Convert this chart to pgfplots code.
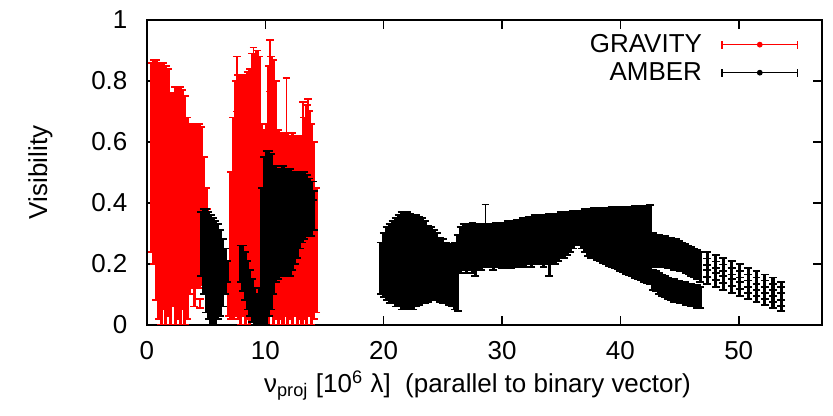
\documentclass[border=0pt]{standalone}
\usepackage{pgfplots}
\pgfplotsset{compat=1.18}
\usepackage{pgfplotstable}
\usepackage{fontspec}
\setmainfont{Liberation Sans}

% GRAVITY: x, y (centre), e (half error)
\pgfplotstableread{
x y e
0.4 0.55 0.31
0.6 0.535 0.335
0.8 0.475 0.395
1.0 0.44 0.42
1.2 0.43 0.43
1.4 0.455 0.405
1.6 0.425 0.425
1.8 0.435 0.405
2.0 0.38 0.38
2.2 0.41 0.35
2.4 0.39 0.39
2.6 0.40 0.38
2.8 0.39 0.39
3.0 0.41 0.36
3.2 0.375 0.375
3.4 0.35 0.33
3.6 0.38 0.28
3.8 0.39 0.27
4.0 0.36 0.30
4.2 0.39 0.27
4.4 0.39 0.27
4.6 0.39 0.26
4.8 0.35 0.20
5.0 0.335 0.115
5.1 0.33 0.05
6.9 0.115 0.085
7.1 0.26 0.24
7.3 0.35 0.33
7.5 0.415 0.385
7.7 0.42 0.40
7.9 0.41 0.41
8.1 0.425 0.395
8.3 0.41 0.41
8.5 0.425 0.405
8.7 0.42 0.42
8.9 0.455 0.435
9.1 0.445 0.445
9.3 0.465 0.435
9.5 0.44 0.44
9.7 0.34 0.32
9.9 0.32 0.32
10.1 0.34 0.32
10.3 0.425 0.425
10.5 0.455 0.425
10.7 0.435 0.435
10.9 0.41 0.39
11.1 0.32 0.32
11.3 0.325 0.305
11.5 0.315 0.315
11.7 0.33 0.30
11.9 0.315 0.315
12.1 0.32 0.30
12.3 0.315 0.315
12.5 0.325 0.295
12.7 0.31 0.31
12.9 0.32 0.30
13.1 0.31 0.31
13.3 0.35 0.33
13.5 0.36 0.36
13.7 0.365 0.335
13.9 0.33 0.33
14.1 0.31 0.29
14.3 0.245 0.205
}\gravity

\pgfplotstableread{
x y e
4.5 0.07 0.015
7.6 0.79 0.09
9.0 0.85 0.06
10.4 0.85 0.085
11.8 0.70 0.11
13.2 0.66 0.07
13.6 0.70 0.04
}\gravityout

% AMBER
\pgfplotstableread{
x y e
4.6 0.265 0.105
4.8 0.24 0.14
5.0 0.21 0.17
5.2 0.195 0.175
5.4 0.18 0.18
5.6 0.175 0.175
5.8 0.17 0.17
6.0 0.175 0.155
6.2 0.17 0.14
6.4 0.17 0.11
6.6 0.175 0.075
6.8 0.175 0.035
7.9 0.20 0.06
8.1 0.185 0.075
8.3 0.16 0.08
8.5 0.13 0.08
8.7 0.105 0.075
8.9 0.08 0.07
9.1 0.06 0.06
9.3 0.05 0.05
9.5 0.06 0.06
9.7 0.225 0.225
9.9 0.275 0.275
10.1 0.285 0.285
10.3 0.30 0.27
10.5 0.305 0.255
10.7 0.31 0.21
10.9 0.33 0.19
11.1 0.33 0.18
11.3 0.335 0.175
11.5 0.34 0.18
11.7 0.335 0.175
11.9 0.335 0.175
12.1 0.335 0.175
12.3 0.34 0.16
12.5 0.35 0.15
12.7 0.36 0.14
12.9 0.375 0.125
13.1 0.385 0.115
13.3 0.39 0.11
13.5 0.39 0.10
13.7 0.385 0.095
13.9 0.38 0.09
14.1 0.375 0.065
19.75 0.185 0.085
20.0 0.195 0.105
20.25 0.20 0.12
20.5 0.20 0.13
20.75 0.205 0.135
21.0 0.205 0.145
21.25 0.21 0.15
21.5 0.21 0.16
21.75 0.21 0.16
22.0 0.21 0.16
22.25 0.21 0.155
22.5 0.205 0.155
22.75 0.21 0.15
23.0 0.21 0.145
23.25 0.21 0.14
23.5 0.205 0.135
23.75 0.20 0.125
24.0 0.20 0.12
24.25 0.195 0.115
24.5 0.19 0.11
24.75 0.18 0.105
25.0 0.175 0.105
25.25 0.17 0.10
25.5 0.165 0.10
25.75 0.16 0.10
26.0 0.16 0.11
26.25 0.17 0.125
26.5 0.245 0.075
26.75 0.255 0.075
27.0 0.25 0.08
27.25 0.255 0.075
27.5 0.2525 0.0825
27.75 0.245 0.085
28.0 0.255 0.075
28.25 0.255 0.075
28.5 0.26 0.07
28.75 0.26 0.07
29.0 0.26 0.07
29.25 0.255 0.075
29.5 0.2625 0.0725
29.75 0.2625 0.0725
30.0 0.26 0.075
30.25 0.26 0.075
30.5 0.265 0.075
30.75 0.2625 0.0775
31.0 0.265 0.075
31.25 0.2675 0.0775
31.5 0.2675 0.0775
31.75 0.27 0.08
32.0 0.27 0.08
32.25 0.2775 0.0775
32.5 0.2725 0.0825
32.75 0.28 0.08
33.0 0.28 0.08
33.25 0.28 0.08
33.5 0.275 0.085
33.75 0.28 0.08
34.0 0.2625 0.1025
34.25 0.2825 0.0825
34.5 0.2825 0.0825
34.75 0.2875 0.0775
35.0 0.295 0.075
35.25 0.295 0.075
35.5 0.30 0.07
35.75 0.305 0.065
36.0 0.3125 0.0625
36.25 0.3175 0.0575
36.5 0.3175 0.0575
36.75 0.3125 0.0625
37.0 0.31 0.07
37.25 0.3025 0.0775
37.5 0.30 0.08
37.75 0.30 0.082
38.0 0.296 0.084
38.25 0.295 0.087
38.5 0.293 0.09
38.75 0.291 0.092
39.0 0.289 0.095
39.25 0.2875 0.0975
39.5 0.285 0.10
39.75 0.2835 0.1025
40.0 0.281 0.105
40.25 0.2795 0.1075
40.5 0.277 0.11
40.75 0.2755 0.1125
41.0 0.2735 0.1145
41.25 0.2715 0.1175
41.5 0.2695 0.1195
41.75 0.2675 0.1225
42.0 0.2655 0.1245
42.25 0.263 0.127
42.5 0.262 0.13
42.75 0.1475 0.0325
43.0 0.1425 0.0325
43.25 0.135 0.035
43.5 0.13 0.035
43.75 0.125 0.035
44.0 0.12 0.035
44.25 0.115 0.035
44.5 0.1125 0.0375
44.75 0.11 0.035
45.0 0.1075 0.0375
45.25 0.105 0.035
45.5 0.1025 0.0375
45.75 0.10 0.035
46.0 0.0975 0.0375
46.25 0.095 0.035
46.5 0.0925 0.0375
46.75 0.09 0.035
42.75 0.245 0.055
43.0 0.2425 0.0525
43.25 0.2425 0.0525
43.5 0.24 0.05
43.75 0.24 0.05
44.0 0.235 0.05
44.25 0.235 0.05
44.5 0.23 0.05
44.75 0.23 0.05
45.0 0.225 0.05
45.25 0.2225 0.0475
45.5 0.2175 0.0475
45.75 0.2125 0.0475
46.0 0.2075 0.0475
46.25 0.2025 0.0475
46.5 0.1975 0.0475
46.75 0.19 0.05
47.35 0.21 0.03
47.35 0.1875 0.03
47.35 0.165 0.03
48.05 0.20 0.03
48.05 0.1775 0.03
48.05 0.155 0.03
48.7 0.19 0.03
48.7 0.1675 0.03
48.7 0.145 0.03
49.4 0.18 0.03
49.4 0.1575 0.03
49.4 0.135 0.03
50.1 0.17 0.03
50.1 0.1475 0.03
50.1 0.125 0.03
50.8 0.155 0.03
50.8 0.135 0.03
50.8 0.115 0.03
51.5 0.145 0.03
51.5 0.125 0.03
51.5 0.105 0.03
52.2 0.135 0.03
52.2 0.115 0.03
52.2 0.095 0.03
52.9 0.125 0.03
52.9 0.105 0.03
52.9 0.085 0.03
53.6 0.11 0.03
53.6 0.0925 0.03
53.6 0.075 0.03
}\amber

\pgfplotstableread{
x y e
28.6 0.33 0.065
14.0 0.44 0.03
}\amberout

\begin{document}
\begin{tikzpicture}
\useasboundingbox (-56.6pt,-35pt) rectangle (264.3pt,125.1pt);
\begin{axis}[
  scale only axis, width=259.9pt, height=117.4pt,
  at={(0pt,0pt)}, anchor=south west,
  xmin=0, xmax=57, ymin=0, ymax=1,
  xtick={0,10,20,30,40,50}, ytick={0,0.2,0.4,0.6,0.8,1},
  minor tick num=0,
  tick align=inside,
  major tick length=3.5pt,
  every tick/.style={black, line width=0.6pt},
  axis line style={line width=0.8pt},
  /pgf/number format/assume math mode=true,
  ticklabel style={font=\fontsize{10}{12}\selectfont},
  yticklabel style={xshift=-4pt},
  xticklabel style={yshift=-2.9pt},
  label style={font=\fontsize{10}{12}\selectfont},
  xlabel={ν\textsubscript{proj} [10\textsuperscript{6} λ]~~(parallel to binary vector)},
  ylabel={Visibility},
  xlabel style={at={(axis description cs:0.49,-0.223)}, anchor=base},
  ylabel style={at={(axis description cs:-0.158,0.5)}, anchor=center},
  legend cell align=right,
  legend plot pos=right,
  legend style={draw=none, fill=none, at={(1,1)}, anchor=north east,
    xshift=-9pt, yshift=-4.5pt, inner sep=0pt, outer sep=0pt,
    column sep=7pt, row sep=0.8pt,
    font=\fontsize{10}{12}\selectfont,
    nodes={inner sep=0.5pt, text height=7.5pt, text depth=1.5pt}},
  hidemark/.style={mark=*, mark size=0.05pt, mark options={draw opacity=0, fill opacity=0}},
]
\addplot[only marks, red, hidemark,
  legend image code/.code={
    \draw[red, line width=0.6pt] (0pt,0pt) -- (29pt,0pt);
    \draw[red, line width=0.6pt] (0pt,-1.5pt) -- (0pt,1.5pt) (29pt,-1.5pt) -- (29pt,1.5pt);
    \fill[red] (14.5pt,0pt) circle (0.9pt);},
  error bars/.cd, y dir=both, y explicit,
  error bar style={line width=1.2pt, red},
  error mark options={rotate=90, red, mark size=1.5pt, line width=0.7pt}]
  table[x=x, y=y, y error=e] {\gravity};
\addlegendentry{GRAVITY}
\addplot[only marks, red, hidemark, forget plot,
  error bars/.cd, y dir=both, y explicit,
  error bar style={line width=0.6pt, red},
  error mark options={rotate=90, red, mark size=1.5pt, line width=0.6pt}]
  table[x=x, y=y, y error=e] {\gravityout};
\addplot[only marks, black, hidemark,
  legend image code/.code={
    \draw[black, line width=0.6pt] (0pt,0pt) -- (29pt,0pt);
    \draw[black, line width=0.6pt] (0pt,-1.5pt) -- (0pt,1.5pt) (29pt,-1.5pt) -- (29pt,1.5pt);
    \fill[black] (14.5pt,0pt) circle (0.9pt);},
  error bars/.cd, y dir=both, y explicit,
  error bar style={line width=1.2pt, black},
  error mark options={rotate=90, black, mark size=1.5pt, line width=0.7pt}]
  table[x=x, y=y, y error=e] {\amber};
\addlegendentry{AMBER}
\addplot[only marks, black, hidemark, forget plot,
  error bars/.cd, y dir=both, y explicit,
  error bar style={line width=0.6pt, black},
  error mark options={rotate=90, black, mark size=1.5pt, line width=0.6pt}]
  table[x=x, y=y, y error=e] {\amberout};
\end{axis}
\end{tikzpicture}
\end{document}
